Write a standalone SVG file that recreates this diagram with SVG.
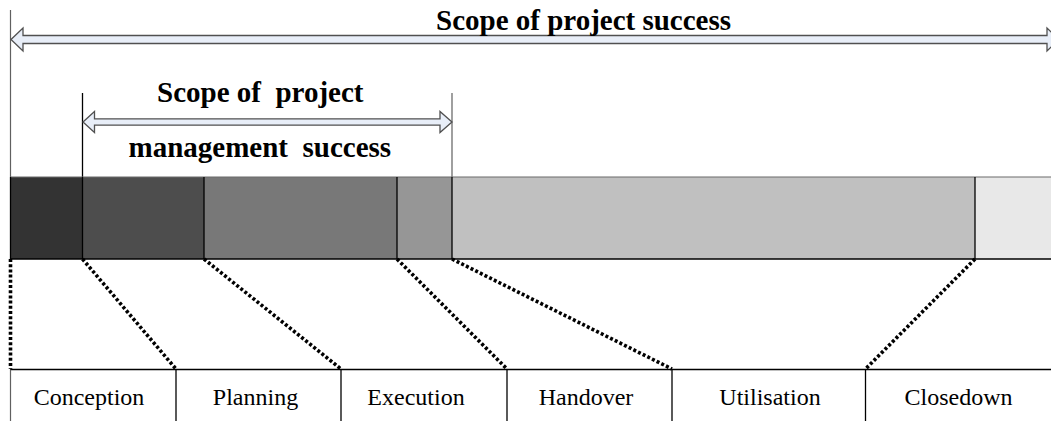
<svg xmlns="http://www.w3.org/2000/svg" width="1051" height="421" viewBox="0 0 1051 421">
  <style>
    .title { font-family: "Liberation Serif", "Times New Roman", serif; font-weight: bold; font-size: 29px; fill: #000; white-space: pre; }
    .phase { font-family: "Liberation Serif", "Times New Roman", serif; font-size: 24px; fill: #000; text-anchor: middle; }
    .arrow { fill: #e8eef8; stroke: #505050; stroke-width: 1.3; stroke-linejoin: miter; }
    .guide { stroke: #606060; stroke-width: 1.2; fill: none; }
    .edge { stroke: #000; stroke-width: 1.3; fill: none; }
    .dots { stroke: #000; stroke-width: 3.6; stroke-dasharray: 3 2.2; fill: none; }
  </style>

  <rect width="1051" height="421" fill="#ffffff"/>

  <!-- scope of project success -->
  <g id="project-success">
    <line class="guide" x1="10.5" y1="10" x2="10.5" y2="177"/>
    <polygon class="arrow" points="11,39.5 23,28 23,35.5 1047,35.5 1047,28 1059,39.5 1047,51 1047,43.5 23,43.5 23,51"/>
    <text class="title" x="436" y="30">Scope of project success</text>
  </g>

  <!-- scope of project management success -->
  <g id="management-success">
    <line class="edge" x1="82.5" y1="93" x2="82.5" y2="177"/>
    <line class="guide" x1="452" y1="93" x2="452" y2="177"/>
    <polygon class="arrow" points="83,122 94.5,111.5 94.5,118.8 440,118.8 440,111.5 452,122 440,132.5 440,125.2 94.5,125.2 94.5,132.5"/>
    <text class="title" x="157" y="102">Scope of  project</text>
    <text class="title" x="128.5" y="157">management  success</text>
  </g>

  <!-- life-cycle bar -->
  <g id="lifecycle-bar">
    <rect x="10" y="177" width="72.5" height="82" fill="#333333"/>
    <rect x="82.5" y="177" width="121.5" height="82" fill="#4d4d4d"/>
    <rect x="204" y="177" width="193" height="82" fill="#787878"/>
    <rect x="397" y="177" width="55" height="82" fill="#969696"/>
    <rect x="452" y="177" width="523" height="82" fill="#c0c0c0"/>
    <rect x="975" y="177" width="76" height="82" fill="#e8e8e8"/>
    <line x1="10" y1="177" x2="1051" y2="177" stroke="#6a6a6a" stroke-width="1.2"/>
    <line class="edge" x1="10" y1="259" x2="1051" y2="259"/>
    <line class="edge" x1="10.5" y1="177" x2="10.5" y2="259"/>
    <line class="edge" x1="82.5" y1="177" x2="82.5" y2="259"/>
    <line class="edge" x1="204" y1="177" x2="204" y2="259"/>
    <line class="edge" x1="397" y1="177" x2="397" y2="259"/>
    <line class="edge" x1="452" y1="177" x2="452" y2="259"/>
    <line class="edge" x1="975" y1="177" x2="975" y2="259"/>
  </g>

  <!-- phase cells -->
  <g id="phase-row">
    <line class="edge" x1="10" y1="369.5" x2="1051" y2="369.5"/>
    <line class="guide" x1="10.5" y1="369.5" x2="10.5" y2="421"/>
    <line class="edge" x1="176" y1="369.5" x2="176" y2="421"/>
    <line class="edge" x1="341" y1="369.5" x2="341" y2="421"/>
    <line class="edge" x1="507" y1="369.5" x2="507" y2="421"/>
    <line class="edge" x1="672" y1="369.5" x2="672" y2="421"/>
    <line class="edge" x1="865.5" y1="369.5" x2="865.5" y2="421"/>
  </g>
  <g id="conception"><text class="phase" x="89" y="405">Conception</text></g>
  <g id="planning"><text class="phase" x="255.5" y="405">Planning</text></g>
  <g id="execution"><text class="phase" x="416" y="405">Execution</text></g>
  <g id="handover"><text class="phase" x="586" y="405">Handover</text></g>
  <g id="utilisation"><text class="phase" x="770" y="405">Utilisation</text></g>
  <g id="closedown"><text class="phase" x="958.5" y="405">Closedown</text></g>

  <!-- dotted links from bar segments to phases -->
  <g id="connectors">
    <line class="dots" x1="10.5" y1="259" x2="10.5" y2="369"/>
    <line class="dots" x1="82.5" y1="259" x2="176" y2="369"/>
    <line class="dots" x1="204" y1="259" x2="341" y2="369"/>
    <line class="dots" x1="397" y1="259" x2="507" y2="369"/>
    <line class="dots" x1="452" y1="259" x2="672" y2="369"/>
    <line class="dots" x1="975" y1="259" x2="865.5" y2="369"/>
  </g>
</svg>
